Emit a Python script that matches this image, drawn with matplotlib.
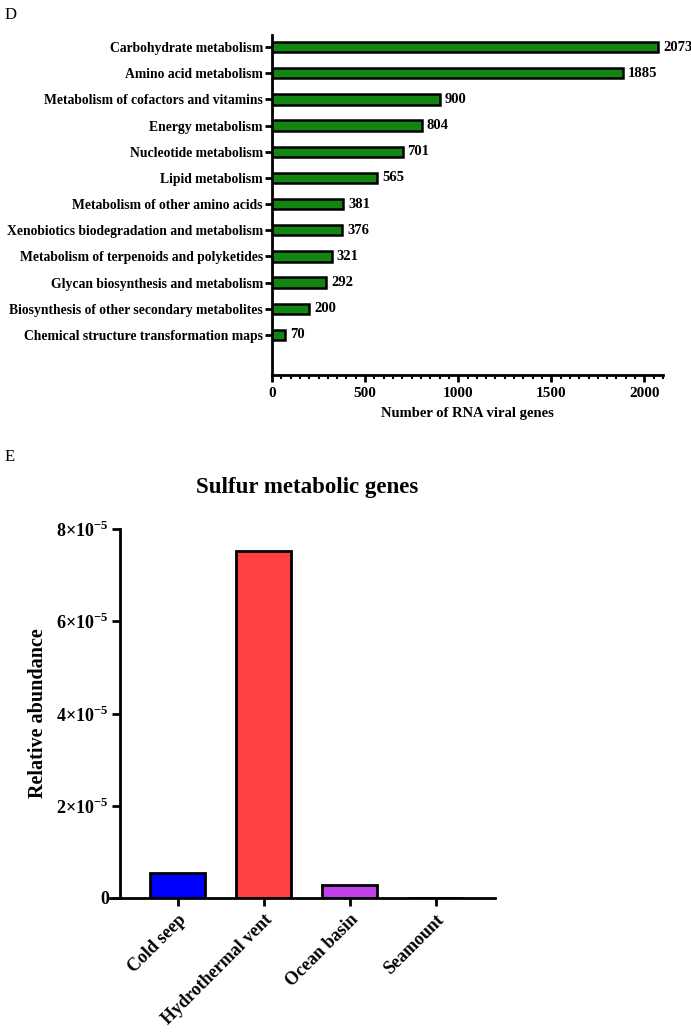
import matplotlib.pyplot as plt
import numpy as np
from matplotlib.ticker import MultipleLocator, FixedLocator

plt.rcParams["font.family"] = ["Liberation Serif", "DejaVu Serif"]
plt.rcParams["font.weight"] = "bold"
plt.rcParams["mathtext.fontset"] = "custom"
plt.rcParams["mathtext.rm"] = "Liberation Serif:bold"
plt.rcParams["mathtext.bf"] = "Liberation Serif:bold"

# panel D data
pathways = [
    "Carbohydrate metabolism",
    "Amino acid metabolism",
    "Metabolism of cofactors and vitamins",
    "Energy metabolism",
    "Nucleotide metabolism",
    "Lipid metabolism",
    "Metabolism of other amino acids",
    "Xenobiotics biodegradation and metabolism",
    "Metabolism of terpenoids and polyketides",
    "Glycan biosynthesis and metabolism",
    "Biosynthesis of other secondary metabolites",
    "Chemical structure transformation maps",
]
gene_counts = [2073, 1885, 900, 804, 701, 565, 381, 376, 321, 292, 200, 70]

# panel E data
habitats = ["Cold seep", "Hydrothermal vent", "Ocean basin", "Seamount"]
abundance = [0.54e-5, 7.52e-5, 0.28e-5, 0.0]
habitat_colors = ["#0000FF", "#FF4040", "#BF40E6", "#808080"]
y_ticks = [0, 2e-5, 4e-5, 6e-5, 8e-5]
y_ticklabels = ["0", r"$2{\times}10^{-5}$", r"$4{\times}10^{-5}$",
                r"$6{\times}10^{-5}$", r"$8{\times}10^{-5}$"]

W, H = 691, 1034
fig = plt.figure(figsize=(W / 100, H / 100), dpi=100)

# ---- panel D ----
axd = fig.add_axes([272 / W, 1 - 375 / H, (663 - 272) / W, (375 - 35) / H])
pos = np.arange(len(pathways))
axd.barh(pos, gene_counts, height=0.4, color="#138513", edgecolor="black", linewidth=1.8)
for p, v in zip(pos, gene_counts):
    axd.text(v + 27, p, str(v), va="center", ha="left", fontsize=10.5, fontweight="bold")
axd.set_yticks(pos)
axd.set_yticklabels(pathways, fontsize=9.8, fontweight="bold")
axd.set_ylim(len(pathways) - 1 + 1.53, -0.46)
axd.set_xlim(0, 2100)
axd.xaxis.set_major_locator(FixedLocator([0, 500, 1000, 1500, 2000]))
axd.xaxis.set_minor_locator(MultipleLocator(50))
axd.set_xlabel("Number of RNA viral genes", fontsize=10.5, fontweight="bold", labelpad=5)
for s in ["top", "right"]:
    axd.spines[s].set_visible(False)
for s in ["left", "bottom"]:
    axd.spines[s].set_linewidth(2)
axd.tick_params(axis="y", which="major", width=2, length=5, pad=1.5)
axd.tick_params(axis="x", which="major", width=2, length=5, labelsize=11)
axd.tick_params(axis="x", which="minor", width=1.5, length=3)
for lab in axd.get_xticklabels():
    lab.set_fontweight("bold")

# ---- panel E ----
axe = fig.add_axes([110 / W, 1 - 898 / H, (495 - 110) / W, (898 - 529) / H])
xpos = np.arange(len(habitats))
axe.bar(xpos, abundance, width=0.64, color=habitat_colors, edgecolor="black", linewidth=2)
axe.set_xlim(-0.79, len(habitats) - 1 + 0.69)
axe.set_ylim(0, 8e-5)
axe.spines["left"].set_position(("data", -0.675))
axe.set_yticks(y_ticks)
axe.set_yticklabels(y_ticklabels, fontsize=13)
axe.set_xticks(xpos)
axe.set_xticklabels(habitats, rotation=45, ha="right", rotation_mode="anchor", fontsize=13,
                    fontweight="bold")
for s in ["top", "right"]:
    axe.spines[s].set_visible(False)
for s in ["left", "bottom"]:
    axe.spines[s].set_linewidth(2)
axe.tick_params(axis="both", width=2, length=6)
axe.tick_params(axis="y", pad=2)
axe.set_ylabel("Relative abundance", fontsize=14.5, fontweight="bold", labelpad=6)

fig.text(307 / W, 1 - 488 / H, "Sulfur metabolic genes", fontsize=16.5, fontweight="bold",
         ha="center", va="center")
fig.text(5 / W, 1 - 15 / H, "D", fontsize=12, fontweight="normal", va="center", ha="left")
fig.text(5 / W, 1 - 457 / H, "E", fontsize=12, fontweight="normal", va="center", ha="left")

fig.savefig("out.png", dpi=100)
